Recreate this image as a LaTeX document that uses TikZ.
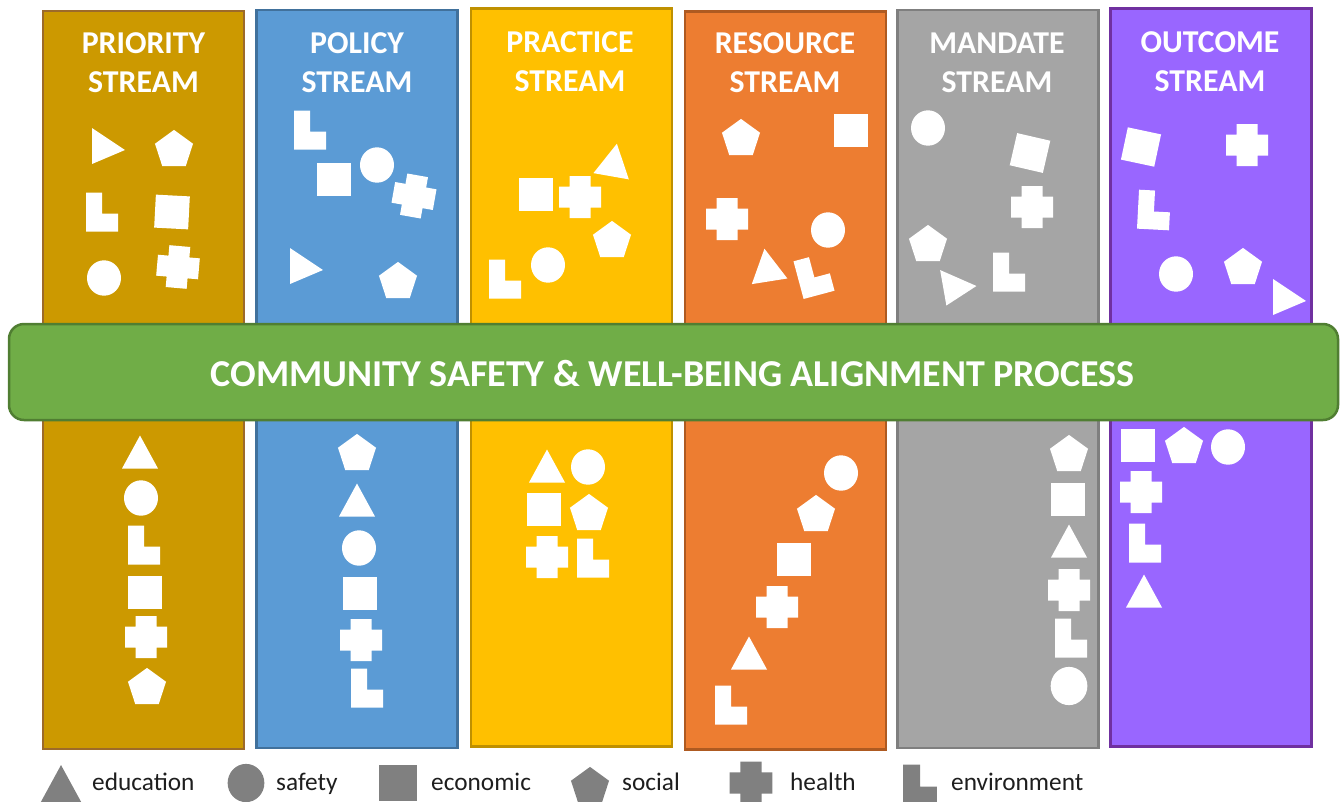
\documentclass[tikz,border=0pt]{standalone}
\usepackage{fontspec}
\setmainfont{Carlito}
\definecolor{prioFill}{HTML}{CC9900}\definecolor{prioLine}{HTML}{9C6A2A}
\definecolor{poliFill}{HTML}{5B9BD5}\definecolor{poliLine}{HTML}{41719C}
\definecolor{pracFill}{HTML}{FFC000}\definecolor{pracLine}{HTML}{BF9000}
\definecolor{resoFill}{HTML}{ED7D31}\definecolor{resoLine}{HTML}{AE5A21}
\definecolor{mandFill}{HTML}{A5A5A5}\definecolor{mandLine}{HTML}{7F7F7F}
\definecolor{outcFill}{HTML}{9966FF}\definecolor{outcLine}{HTML}{7030A0}
\definecolor{bandFill}{HTML}{70AD47}\definecolor{bandLine}{HTML}{507E32}
\definecolor{keyGray}{HTML}{808080}
\definecolor{keyText}{HTML}{1E1E1E}
\begin{document}
\begin{tikzpicture}[x=1pt,y=-1pt,
  stream/.style={draw, line width=2.5pt, minimum width=201pt, minimum height=738pt, inner sep=0pt},
  ttl/.style={anchor=base, inner sep=0pt, text=white, font=\bfseries\fontsize{31.8}{38}\selectfont},
  band/.style={draw=bandLine, fill=bandFill, line width=2.5pt, rounded corners=15pt,
    minimum width=1329pt, minimum height=96pt, inner sep=0pt},
  bandtext/.style={anchor=base, inner sep=0pt, text=white, font=\bfseries\fontsize{38}{44}\selectfont},
  keytext/.style={anchor=base west, inner sep=0pt, text=keyText, font=\fontsize{25.3}{30}\selectfont},
  shapefill/.style={fill=white},
  pics/tri/.style={code={\path[shapefill] (0,-16.5) -- (18,16.5) -- (-18,16.5) -- cycle;}},
  pics/rtri/.style={code={\path[shapefill] (-16,-18) -- (17,4) -- (-16,18) -- cycle;}},
  pics/pent/.style={code={\path[shapefill,shift={(0,1.9)}] (-90:20) -- (-18:20) -- (54:20) -- (126:20) -- (198:20) -- cycle;}},
  pics/sq/.style={code={\path[shapefill] (-17,-16.5) rectangle (17,16.5);}},
  pics/circ/.style={code={\path[shapefill] (0,0) ellipse [x radius=17, y radius=17.7];}},
  pics/cross/.style={code={\path[shapefill] (-10.5,-21) -- (10.5,-21) -- (10.5,-10.5) -- (21,-10.5) -- (21,10.5) -- (10.5,10.5) -- (10.5,21) -- (-10.5,21) -- (-10.5,10.5) -- (-21,10.5) -- (-21,-10.5) -- (-10.5,-10.5) -- cycle;}},
  pics/ell/.style={code={\path[shapefill] (-16,-19.5) -- (0,-19.5) -- (0,1.5) -- (16,1.5) -- (16,19.5) -- (-16,19.5) -- cycle;}},
]
\useasboundingbox (0,0) rectangle (1340,801);

% the six stream columns
\node[stream, fill=prioFill, draw=prioLine] (priority) at (143.5,380) {};
\node[stream, fill=poliFill, draw=poliLine] (policy)   at (357,379) {};
\node[stream, fill=pracFill, draw=pracLine] (practice) at (571.5,377.5) {};
\node[stream, fill=resoFill, draw=resoLine] (resource) at (785.5,380.5) {};
\node[stream, fill=mandFill, draw=mandLine] (mandate)  at (998,379) {};
\node[stream, fill=outcFill, draw=outcLine] (outcome)  at (1211,377.5) {};

% column headings
\node[ttl] (priorityA) at (143.5,53) {PRIORITY};
\node[ttl] (priorityB) at (143.5,92) {STREAM};
\node[ttl] (policyA)   at (357,53) {POLICY};
\node[ttl] (policyB)   at (357,92) {STREAM};
\node[ttl] (practiceA) at (570,52) {PRACTICE};
\node[ttl] (practiceB) at (570,91) {STREAM};
\node[ttl] (resourceA) at (785,53) {RESOURCE};
\node[ttl] (resourceB) at (785,92) {STREAM};
\node[ttl] (mandateA)  at (997,53) {MANDATE};
\node[ttl] (mandateB)  at (997,92) {STREAM};
\node[ttl] (outcomeA)  at (1210,52) {OUTCOME};
\node[ttl] (outcomeB)  at (1210,91) {STREAM};

% scattered symbols above the band
\pic at (108,146) {rtri};
\pic at (174,148) {pent};
\pic at (102,212) {ell};
\pic[rotate=-3] at (172,212) {sq};
\pic at (104,278) {circ};
\pic[rotate=-5] at (178,267) {cross};

\pic at (310,130) {ell};
\pic at (334,179) {sq};
\pic at (377,165) {circ};
\pic[rotate=-10] at (414,196) {cross};
\pic at (306,266) {rtri};
\pic at (398,280) {pent};

\pic[rotate=-10] at (614,160) {tri};
\pic at (536,194) {sq};
\pic at (580,197) {cross};
\pic at (612,239) {pent};
\pic at (548,265) {circ};
\pic at (505,279) {ell};

\pic at (741,137) {pent};
\pic at (851,130) {sq};
\pic at (727,219) {cross};
\pic at (828,230) {circ};
\pic[rotate=9] at (767,265) {tri};
\pic[rotate=15] at (814,276) {ell};

\pic at (928,128) {circ};
\pic[rotate=-13] at (1030,153) {sq};
\pic at (1032,207) {cross};
\pic at (928,243) {pent};
\pic[rotate=10] at (959,285) {rtri};
\pic at (1009,272) {ell};

\pic[rotate=-12] at (1141,147) {sq};
\pic at (1247,145) {cross};
\pic[rotate=-3] at (1154,210) {ell};
\pic at (1176,274) {circ};
\pic at (1243,266) {pent};
\pic at (1289,297) {rtri};

% alignment band across all streams
\node[band] (band) at (673.5,372) {};
\node[bandtext] (bandlabel) at (672.5,386) {COMMUNITY SAFETY \& WELL-BEING ALIGNMENT PROCESS};

% aligned symbols below the band
\pic at (140,452) {tri};
\pic at (141,498) {circ};
\pic at (144,545) {ell};
\pic at (145,592) {sq};
\pic at (146,637) {cross};
\pic at (147,686) {pent};

\pic at (357,452) {pent};
\pic at (357,500) {tri};
\pic at (359,548) {circ};
\pic at (360,593) {sq};
\pic at (361,640) {cross};
\pic at (367,688) {ell};

\pic at (547,466) {tri};
\pic at (588,467) {circ};
\pic at (544,509) {sq};
\pic at (589,512) {pent};
\pic at (547,557) {cross};
\pic at (593,558) {ell};

\pic at (841,473) {circ};
\pic at (816,513) {pent};
\pic at (794,559) {sq};
\pic at (777,607) {cross};
\pic at (749,653) {tri};
\pic at (731,705) {ell};

\pic at (1069,453) {pent};
\pic at (1068,499) {sq};
\pic at (1069,541) {tri};
\pic at (1069,590) {cross};
\pic at (1071,638) {ell};
\pic[scale=1.08] at (1069,686) {circ};

\pic at (1138,445) {sq};
\pic at (1184,445) {pent};
\pic at (1228,447) {circ};
\pic at (1141,492) {cross};
\pic at (1145,543) {ell};
\pic at (1144,591) {tri};

% legend
\begin{scope}[shapefill/.style={fill=keyGray}]
  \pic[scale=1.15] at (61,784) {tri};
  \pic[scale=1.08] at (246,783) {circ};
  \pic[scale=1.1] at (398,783) {sq};
  \pic[scale=1.0] at (590,785) {pent};
  \pic[scale=1.02] at (751,783) {cross};
  \pic[scale=1.05] at (920,785) {ell};
\end{scope}
\node[keytext] (kEdu)  at (92,790)  {education};
\node[keytext] (kSaf)  at (276,790) {safety};
\node[keytext] (kEco)  at (431,790) {economic};
\node[keytext] (kSoc)  at (622,790) {social};
\node[keytext] (kHea)  at (790,790) {health};
\node[keytext] (kEnv)  at (951,790) {environment};
\end{tikzpicture}
\end{document}
